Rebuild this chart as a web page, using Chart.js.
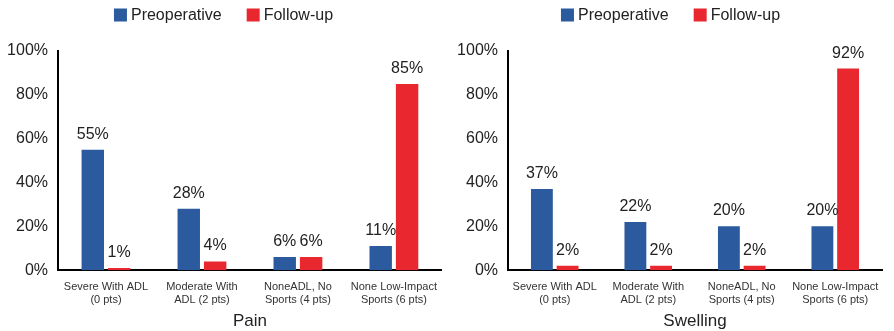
<!DOCTYPE html>
<html>
<head>
<meta charset="utf-8">
<script src="https://cdn.jsdelivr.net/npm/chart.js@4"></script>
<style>
  body { margin: 0; background: #fff; }
  .wrap { display: flex; width: 894px; height: 331px; }
  canvas { display: block; }
</style>
</head>
<body>
<div class="wrap">
  <canvas id="painChart" width="447" height="331"></canvas>
  <canvas id="swellingChart" width="447" height="331"></canvas>
</div>
<script>
const categories = [
    ['Severe With ADL', '(0 pts)'],
    ['Moderate With', 'ADL (2 pts)'],
    ['NoneADL, No', 'Sports (4 pts)'],
    ['None Low-Impact', 'Sports (6 pts)']
];
const seriesNames = ['Preoperative', 'Follow-up'];
const painPreop = [55, 28, 6, 11];
const painFollow = [1, 4, 6, 85];
const swellingPreop = [37, 22, 20, 20];
const swellingFollow = [2, 2, 2, 92];
const yTicks = [0, 20, 40, 60, 80, 100];

const FONT = "'Liberation Sans', Arial, sans-serif";
const BLUE = '#2b5b9e';
const RED = '#e8282e';

// підписи значень над стовпчиками
const valueLabels = {
    id: 'valueLabels',
    afterDatasetsDraw(chart) {
        const ctx = chart.ctx;
        ctx.save();
        ctx.font = '16px ' + FONT;
        ctx.fillStyle = '#222';
        ctx.textAlign = 'center';
        ctx.textBaseline = 'alphabetic';
        chart.data.datasets.forEach((ds, i) => {
            chart.getDatasetMeta(i).data.forEach((bar, j) => {
                ctx.fillText(ds.data[j] + '%', bar.x, bar.y - 11);
            });
        });
        ctx.restore();
    }
};

// легенда зверху, компактна
const topLegend = {
    id: 'topLegend',
    afterDraw(chart) {
        const ctx = chart.ctx;
        const box = 13, gapText = 4, gapItem = 25, cy = 15;
        ctx.save();
        ctx.font = '16px ' + FONT;
        ctx.textBaseline = 'middle';
        const items = chart.data.datasets.map(ds => ({
            text: ds.label, color: ds.backgroundColor, w: ctx.measureText(ds.label).width
        }));
        let total = items.reduce((acc, it) => acc + box + gapText + it.w, 0) + gapItem * (items.length - 1);
        let x = chart.width / 2 - total / 2;
        items.forEach(it => {
            ctx.fillStyle = it.color;
            ctx.fillRect(x, cy - box / 2, box, box);
            ctx.fillStyle = '#222';
            ctx.fillText(it.text, x + box + gapText, cy + 1);
            x += box + gapText + it.w + gapItem;
        });
        ctx.restore();
    }
};

function buildChart(id, title, preop, follow, axisWidth, padRight) {
    const ctx = document.getElementById(id).getContext('2d');
    return new Chart(ctx, {
        type: 'bar',
        data: {
            labels: categories,
            datasets: [
                { label: seriesNames[0], data: preop, backgroundColor: BLUE },
                { label: seriesNames[1], data: follow, backgroundColor: RED }
            ]
        },
        options: {
            responsive: false,
            animation: false,
            devicePixelRatio: 1,
            categoryPercentage: 0.55,
            barPercentage: 0.85,
            layout: { padding: { top: 51, right: padRight, bottom: -1, left: 0 } },
            plugins: {
                legend: { display: false },
                tooltip: { enabled: false }
            },
            scales: {
                x: {
                    grid: { display: false, drawTicks: false },
                    border: { display: true, color: '#000', width: 2 },
                    ticks: {
                        font: { family: FONT, size: 11 },
                        color: '#333',
                        padding: 10,
                        maxRotation: 0,
                        autoSkip: false
                    },
                    title: {
                        display: true,
                        text: title,
                        font: { family: FONT, size: 17 },
                        color: '#222',
                        padding: { top: -5, bottom: 0 }
                    }
                },
                y: {
                    min: 0,
                    max: 100,
                    afterBuildTicks: scale => { scale.ticks = yTicks.map(v => ({ value: v })); },
                    afterFit: scale => { scale.width = axisWidth; },
                    grid: { display: false, drawTicks: false },
                    border: { display: true, color: '#000', width: 2 },
                    ticks: {
                        font: { family: FONT, size: 16 },
                        color: '#222',
                        padding: 10,
                        callback: v => v + '%'
                    }
                }
            }
        },
        plugins: [valueLabels, topLegend]
    });
}

buildChart('painChart', 'Pain', painPreop, painFollow, 58, 0);
buildChart('swellingChart', 'Swelling', swellingPreop, swellingFollow, 61, 12);
</script>
</body>
</html>
